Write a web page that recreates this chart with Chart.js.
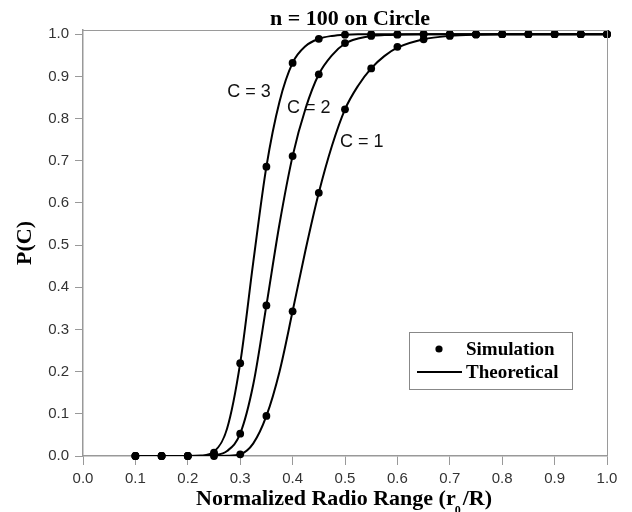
<!DOCTYPE html>
<html>
<head>
<meta charset="utf-8">
<script src="https://cdn.jsdelivr.net/npm/chart.js@4/dist/chart.umd.min.js"></script>
<style>
  html, body { margin: 0; padding: 0; background: #fff; }
  #wrap { width: 632px; height: 512px; }
</style>
</head>
<body>
<div id="wrap"><canvas id="grafica" width="632" height="512"></canvas></div>
<script>
// valores
var xSim = [0.1, 0.15, 0.2, 0.25, 0.3, 0.35, 0.4, 0.45, 0.5, 0.55, 0.6, 0.65, 0.7, 0.75, 0.8, 0.85, 0.9, 0.95, 1.0];
var simC1 = [0, 0, 0, 0, 0.004, 0.095, 0.343, 0.624, 0.822, 0.919, 0.970, 0.988, 0.996, 0.999, 1, 1, 1, 1, 1];
var simC2 = [0, 0, 0, 0.004, 0.053, 0.357, 0.711, 0.905, 0.979, 0.996, 0.999, 1, 1, 1, 1, 1, 1, 1, 1];
var simC3 = [0, 0, 0, 0.008, 0.22, 0.686, 0.932, 0.989, 0.999, 1, 1, 1, 1, 1, 1, 1, 1, 1, 1];

var xTeo = [0.1, 0.15, 0.2, 0.225, 0.25, 0.275, 0.3, 0.325, 0.35, 0.375, 0.4, 0.425, 0.45, 0.475, 0.5, 0.525, 0.55, 0.575, 0.6, 0.65, 0.7, 0.75, 0.8, 0.9, 1.0];
var teoC1 = [0, 0, 0, 0, 0, 0.0005, 0.004, 0.03, 0.095, 0.2, 0.343, 0.49, 0.624, 0.735, 0.822, 0.878, 0.919, 0.948, 0.968, 0.988, 0.996, 0.999, 1, 1, 1];
var teoC2 = [0, 0, 0, 0, 0.002, 0.012, 0.053, 0.17, 0.357, 0.55, 0.711, 0.825, 0.905, 0.95, 0.978, 0.99, 0.996, 0.998, 0.999, 1, 1, 1, 1, 1, 1];
var teoC3 = [0, 0, 0, 0.001, 0.01, 0.065, 0.22, 0.46, 0.686, 0.84, 0.932, 0.972, 0.989, 0.996, 0.999, 1, 1, 1, 1, 1, 1, 1, 1, 1, 1];

var etiquetas = ['C = 3', 'C = 2', 'C = 1'];
var etiqX = [0.317, 0.431, 0.532];
var etiqY = [0.864, 0.826, 0.745];

var titulo = 'n = 100 on Circle';
var tituloY = 'P(C)';
var leyenda = ['Simulation', 'Theoretical'];

function pares(xs, ys) {
  var out = [];
  for (var i = 0; i < xs.length; i++) out.push({x: xs[i], y: ys[i]});
  return out;
}

function linea(ys) {
  return {data: pares(xTeo, ys), showLine: true, pointRadius: 0, borderColor: '#000',
    borderWidth: 2, cubicInterpolationMode: 'monotone', fill: false};
}
function puntos(ys) {
  return {data: pares(xSim, ys), showLine: false, pointRadius: 3.9, pointHoverRadius: 3.9,
    backgroundColor: '#000', borderColor: '#000', borderWidth: 0, clip: false};
}

var serif = '"Liberation Serif", "Times New Roman", serif';
var sans = '"Liberation Sans", Arial, sans-serif';

var decoracion = {
  id: 'decoracion',
  afterDraw: function(chart) {
    var ctx = chart.ctx, a = chart.chartArea, sx = chart.scales.x, sy = chart.scales.y;
    ctx.save();
    // borde superior y derecho
    ctx.strokeStyle = '#9a9a9a';
    ctx.lineWidth = 1;
    ctx.beginPath();
    ctx.moveTo(a.left, a.top + 0.5);
    ctx.lineTo(a.right + 0.5, a.top + 0.5);
    ctx.lineTo(a.right + 0.5, a.bottom);
    ctx.stroke();

    // titulo
    ctx.fillStyle = '#000';
    ctx.font = 'bold 22px ' + serif;
    ctx.textAlign = 'center';
    ctx.textBaseline = 'alphabetic';
    ctx.fillText(titulo, 350, 25);

    // titulo eje x con subindice
    var p1 = 'Normalized Radio Range (r', p2 = '/R)';
    ctx.font = 'bold 22px ' + serif;
    var w1 = ctx.measureText(p1).width, w2 = ctx.measureText(p2).width, gap = 7;
    var x0 = 344 - (w1 + gap + w2) / 2;
    ctx.textAlign = 'left';
    ctx.fillText(p1, x0, 505);
    ctx.fillText(p2, x0 + w1 + gap, 505);
    ctx.font = 'bold 12px ' + serif;
    ctx.fillText('0', x0 + w1 - 1, 514);

    // titulo eje y
    ctx.save();
    ctx.translate(25, (a.top + a.bottom) / 2);
    ctx.rotate(-Math.PI / 2);
    ctx.font = 'bold 22px ' + serif;
    ctx.textAlign = 'center';
    ctx.textBaseline = 'middle';
    ctx.fillText(tituloY, 0, 0);
    ctx.restore();

    // etiquetas de curvas
    ctx.font = '18px ' + sans;
    ctx.fillStyle = '#111';
    ctx.textAlign = 'center';
    ctx.textBaseline = 'middle';
    for (var i = 0; i < etiquetas.length; i++) {
      ctx.fillText(etiquetas[i], sx.getPixelForValue(etiqX[i]), sy.getPixelForValue(etiqY[i]));
    }

    // leyenda
    var lx = a.right - 198, ly = a.top + 302;
    ctx.strokeStyle = '#888';
    ctx.lineWidth = 1;
    ctx.strokeRect(lx + 0.5, ly + 0.5, 163, 57);
    ctx.fillStyle = '#000';
    ctx.beginPath();
    ctx.arc(lx + 30, ly + 17, 3.6, 0, Math.PI * 2);
    ctx.fill();
    ctx.strokeStyle = '#000';
    ctx.lineWidth = 2;
    ctx.beginPath();
    ctx.moveTo(lx + 8, ly + 40);
    ctx.lineTo(lx + 53, ly + 40);
    ctx.stroke();
    ctx.font = 'bold 19px ' + serif;
    ctx.textAlign = 'left';
    ctx.textBaseline = 'middle';
    ctx.fillText(leyenda[0], lx + 57, ly + 18);
    ctx.fillText(leyenda[1], lx + 57, ly + 41);
    ctx.restore();
  }
};

var grafica = new Chart(document.getElementById('grafica'), {
  type: 'scatter',
  data: {
    datasets: [linea(teoC1), linea(teoC2), linea(teoC3), puntos(simC1), puntos(simC2), puntos(simC3)]
  },
  options: {
    responsive: false,
    animation: false,
    events: [],
    layout: {padding: {top: 30, left: 0, right: 25, bottom: 0}},
    plugins: {legend: {display: false}, tooltip: {enabled: false}, title: {display: false}},
    scales: {
      x: {
        type: 'linear', min: 0, max: 1,
        afterFit: function(s) { s.height = 56; },
        ticks: {stepSize: 0.1, padding: 5, color: '#333', font: {family: sans, size: 15},
          callback: function(v) { return Number(v).toFixed(1); }},
        grid: {drawOnChartArea: false, tickLength: 9, color: '#999'},
        border: {color: '#999', width: 1.5}
      },
      y: {
        type: 'linear', min: 0, max: 1.01,
        afterFit: function(s) { s.width = 83; },
        ticks: {stepSize: 0.1, includeBounds: false, padding: 6, color: '#333', font: {family: sans, size: 15},
          callback: function(v) { return Number(v).toFixed(1); }},
        grid: {drawOnChartArea: false, tickLength: 8, color: '#999'},
        border: {color: '#999', width: 1.5}
      }
    }
  },
  plugins: [decoracion]
});
</script>
</body>
</html>
